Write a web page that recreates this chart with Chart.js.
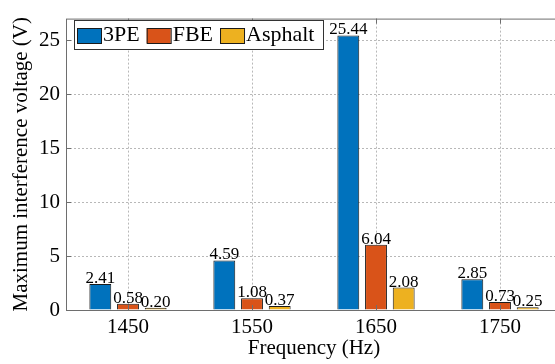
<!DOCTYPE html>
<html>
<head>
<meta charset="utf-8">
<script src="https://cdn.jsdelivr.net/npm/chart.js@4"></script>
<style>
  html, body { margin: 0; padding: 0; background: #fff; overflow: hidden; }
  #wrap { width: 570px; height: 364px; }
</style>
</head>
<body>
<div id="wrap"><canvas id="voltChart" width="570" height="364"></canvas></div>
<script>
// frequencies and peak interference voltage per coating
const frequencies = ['1450', '1550', '1650', '1750'];
const pe3 = [2.41, 4.59, 25.44, 2.85];
const fbe = [0.58, 1.08, 6.04, 0.73];
const asphalt = [0.20, 0.37, 2.08, 0.25];
const yTicks = [0, 5, 10, 15, 20, 25];

const serif = "'Liberation Serif', 'Times New Roman', serif";
const axisGray = '#6e6e6e';

// axes box, inward tick marks, value labels and legend, drawn on top of the bars
const overlay = {
  id: 'overlay',
  afterDatasetsDraw(chart) {
    const ctx = chart.ctx;
    ctx.save();
    ctx.font = '17px ' + serif;
    ctx.fillStyle = '#000';
    ctx.textAlign = 'center';
    ctx.textBaseline = 'alphabetic';
    chart.data.datasets.forEach((ds, di) => {
      chart.getDatasetMeta(di).data.forEach((bar, i) => {
        ctx.fillText(ds.data[i].toFixed(2), bar.x, bar.y - 1);
      });
    });
    ctx.restore();
  },
  afterDraw(chart) {
    const ctx = chart.ctx;
    const a = chart.chartArea;
    const xs = chart.scales.x, ys = chart.scales.y;
    ctx.save();
    ctx.strokeStyle = axisGray;
    ctx.lineWidth = 1;
    ctx.strokeRect(a.left + 0.5, a.top + 0.5, a.right - a.left, a.bottom - a.top);
    ctx.beginPath();
    yTicks.forEach(v => {
      const y = Math.round(ys.getPixelForValue(v)) + 0.5;
      ctx.moveTo(a.left, y); ctx.lineTo(a.left + 5, y);
    });
    frequencies.forEach((f, i) => {
      const x = Math.round(xs.getPixelForValue(i)) + 0.5;
      ctx.moveTo(x, a.bottom); ctx.lineTo(x, a.bottom - 5);
      ctx.moveTo(x, a.top); ctx.lineTo(x, a.top + 5);
    });
    ctx.stroke();

    // legend box
    const lx = 74, ly = 20, lw = 249, lh = 29;
    ctx.fillStyle = '#fff';
    ctx.fillRect(lx, ly, lw, lh);
    ctx.strokeStyle = '#333';
    ctx.strokeRect(lx + 0.5, ly + 0.5, lw, lh);
    ctx.font = '22px ' + serif;
    ctx.textBaseline = 'middle';
    ctx.textAlign = 'left';
    let x = lx + 3;
    chart.data.datasets.forEach(ds => {
      ctx.fillStyle = ds.backgroundColor;
      ctx.fillRect(x, ly + 8, 24, 15);
      ctx.strokeStyle = '#1a1a1a';
      ctx.strokeRect(x + 0.5, ly + 8.5, 24, 15);
      x += 26;
      ctx.fillStyle = '#000';
      ctx.fillText(ds.label, x, ly + lh / 2 + 1);
      x += ctx.measureText(ds.label).width + 7;
    });
    ctx.restore();
  }
};

const barStyle = { borderColor: '#1a1a1a', borderWidth: 1, categoryPercentage: 0.67, barPercentage: 0.79 };

new Chart(document.getElementById('voltChart'), {
  type: 'bar',
  data: {
    labels: frequencies,
    datasets: [
      Object.assign({ label: '3PE', data: pe3, backgroundColor: '#0072BD' }, barStyle),
      Object.assign({ label: 'FBE', data: fbe, backgroundColor: '#D95319' }, barStyle),
      Object.assign({ label: 'Asphalt', data: asphalt, backgroundColor: '#EDB120' }, barStyle)
    ]
  },
  options: {
    responsive: false,
    animation: false,
    layout: { padding: { top: 13, right: 8, left: 0, bottom: 0 } },
    plugins: { legend: { display: false }, tooltip: { enabled: false } },
    scales: {
      x: {
        afterFit: s => { s.height = 54; },
        grid: { offset: false, drawTicks: false, color: 'rgba(0,0,0,0.28)' },
        border: { display: false, dash: [2, 2] },
        ticks: { color: '#000', padding: 5, font: { family: serif, size: 21 } },
        title: {
          display: true, text: 'Frequency (Hz)', color: '#000',
          font: { family: serif, size: 21, lineHeight: 1.2 }, padding: { top: 0, bottom: 3 }
        }
      },
      y: {
        min: 0, max: 27,
        afterFit: s => { s.width = 66; },
        grid: { drawTicks: false, color: 'rgba(0,0,0,0.28)' },
        border: { display: false, dash: [2, 2] },
        ticks: {
          stepSize: 5, includeBounds: false, color: '#000', padding: 6,
          font: { family: serif, size: 21 }
        },
        title: {
          display: true, text: 'Maximum interference voltage (V)', color: '#000',
          font: { family: serif, size: 21, lineHeight: 1.2 }, padding: { top: 9, bottom: 0 }
        }
      }
    }
  },
  plugins: [overlay]
});
</script>
</body>
</html>
